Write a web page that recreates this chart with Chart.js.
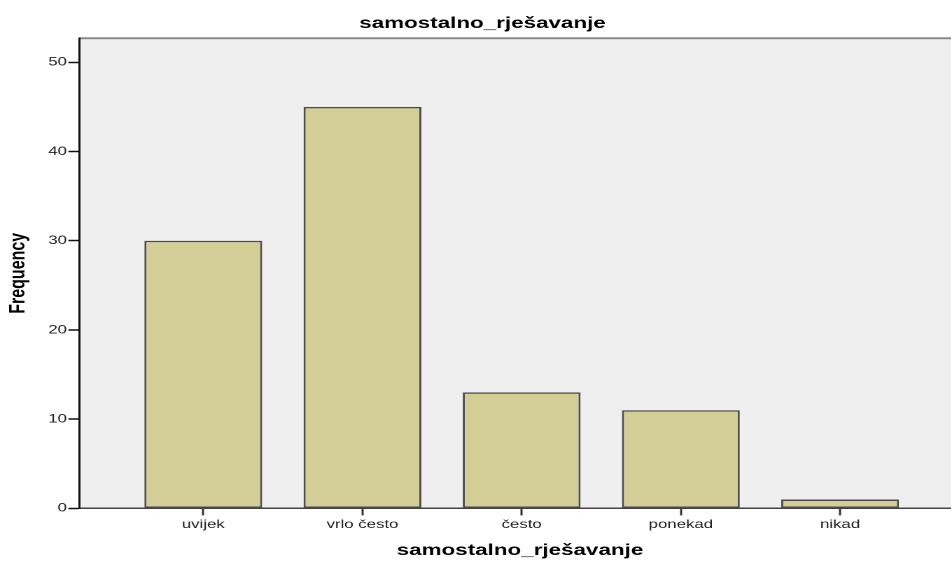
<!DOCTYPE html>
<html>
<head>
<meta charset="utf-8">
<script src="https://cdn.jsdelivr.net/npm/chart.js@4.4.1/dist/chart.umd.min.js"></script>
<style>
  html, body { margin: 0; padding: 0; background: #fff; overflow: hidden; width: 951px; height: 561px; }
  /* the original export is stretched sideways, so the chart is drawn narrow and widened */
  #wrap { width: 686px; height: 561px; transform: scaleX(1.4); transform-origin: 0 0; }
</style>
</head>
<body>
<div id="wrap"><canvas id="chart"></canvas></div>
<script>
// ── Data ─────────────────────────────────────────────
const CATEGORIES = ['uvijek', 'vrlo često', 'često', 'ponekad', 'nikad'];
const FREQUENCY = [30, 45, 13, 11, 1];
const Y_TICKS = [0, 10, 20, 30, 40, 50];
const TITLE = 'samostalno_rješavanje';

// ── Style ────────────────────────────────────────────
const FONT = "'Liberation Sans', Arial, sans-serif";
const BAR_FILL = '#d3ce97';
const BAR_EDGE = '#4d4d4d';
const PLOT_BG = '#efefef';

// plot background + top frame line
const plotBg = {
    id: 'plotBg',
    beforeDraw(chart) {
        const { ctx, chartArea: a } = chart;
        ctx.save();
        ctx.fillStyle = PLOT_BG;
        ctx.fillRect(a.left, a.top, a.right - a.left, a.bottom - a.top);
        ctx.strokeStyle = '#8a8a8a';
        ctx.lineWidth = 2;
        ctx.beginPath();
        ctx.moveTo(a.left, a.top);
        ctx.lineTo(a.right, a.top);
        ctx.stroke();
        ctx.restore();
    }
};

new Chart(document.getElementById('chart'), {
    type: 'bar',
    data: {
        datasets: [{
            data: FREQUENCY.map((v, i) => ({ x: i, y: v })),
            backgroundColor: BAR_FILL,
            borderColor: BAR_EDGE,
            borderWidth: 1.5,
            borderSkipped: false,
            barPercentage: 0.74,
            categoryPercentage: 1,
        }],
    },
    options: {
        responsive: true,
        maintainAspectRatio: false,
        devicePixelRatio: 2,
        animation: false,
        layout: { padding: { left: 3.3, right: 0, top: 0, bottom: 1 } },
        plugins: {
            legend: { display: false },
            tooltip: { enabled: false },
            title: {
                display: true,
                text: TITLE,
                color: '#000',
                font: { family: FONT, size: 16, weight: 'bold' },
                padding: { top: 14, bottom: 5 },
            },
        },
        scales: {
            x: {
                type: 'linear',
                offset: false,
                min: -0.777,
                max: 4.756,
                afterBuildTicks: s => { s.ticks = CATEGORIES.map((_, i) => ({ value: i })); },
                ticks: {
                    color: '#222',
                    font: { family: FONT, size: 12 },
                    padding: 2,
                    maxRotation: 0,
                    autoSkip: false,
                    callback: v => CATEGORIES[v] ?? '',
                },
                grid: { offset: false, drawOnChartArea: false, tickLength: 7, color: '#333', tickWidth: 1.5 },
                border: { display: true, color: '#444', width: 1.5 },
                title: {
                    display: true,
                    text: TITLE,
                    color: '#000',
                    font: { family: FONT, size: 16, weight: 'bold' },
                    padding: { top: 7, bottom: 0 },
                },
            },
            y: {
                min: 0,
                max: 52.7,
                afterBuildTicks: s => { s.ticks = Y_TICKS.map(v => ({ value: v })); },
                ticks: {
                    color: '#222',
                    font: { family: FONT, size: 12 },
                    padding: 1,
                },
                grid: { drawOnChartArea: false, tickLength: 8, color: '#111', tickWidth: 1.5 },
                border: { display: true, color: '#111', width: 1.5 },
                title: {
                    display: true,
                    text: 'Frequency',
                    color: '#000',
                    font: { family: FONT, size: 16, weight: 'bold' },
                    padding: { top: 0, bottom: 11 },
                },
            },
        },
    },
    plugins: [plotBg],
});
</script>
</body>
</html>
